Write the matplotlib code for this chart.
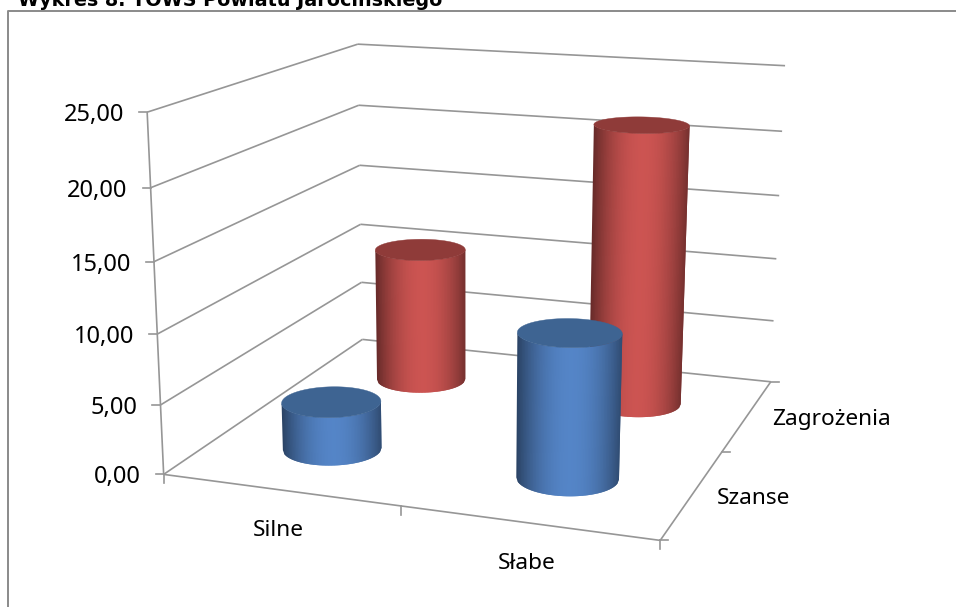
import numpy as np
import matplotlib
matplotlib.use("Agg")
import matplotlib.pyplot as plt
from matplotlib.patches import Polygon

W, H = 956, 607
categories = ["Silne", "Słabe"]
series = ["Szanse", "Zagrożenia"]
szanse = [3.5, 10.3]
zagrozenia = [10.55, 21.4]
y_ticks = [0, 5, 10, 15, 20, 25]
y_labels = ["0,00", "5,00", "10,00", "15,00", "20,00", "25,00"]
title = "Wykres 8. TOWS Powiatu Jarocińskiego"
FONT = "Noto Sans"
GRID = "#969696"

# Camera calibration: model corner -> picture pixel
model = np.array([(0,0,0),(2,0,0),(2,2,0),(0,2,0),(0,0,25),(0,2,25),(2,2,25)], float)
pix = np.array([(164,474),(660,541),(771,381),(362,340),(147,112),(358,44),(785,66)], float)
A = []; b = []
for (X,Y,Z),(u,v) in zip(model, pix):
    A.append([X,Y,Z,1,0,0,0,0,-u*X,-u*Y,-u*Z]); b.append(u)
    A.append([0,0,0,0,X,Y,Z,1,-v*X,-v*Y,-v*Z]); b.append(v)
M = np.append(np.linalg.lstsq(np.array(A), np.array(b), rcond=None)[0], 1).reshape(3,4)

def proj(x, y, z):
    x, y, z = np.broadcast_arrays(np.asarray(x,float), np.asarray(y,float), np.asarray(z,float))
    p = np.stack([x, y, z, np.ones_like(x)])
    q = np.tensordot(M, p, axes=1)
    return q[0]/q[2], q[1]/q[2]

fig = plt.figure(figsize=(W/100, H/100), dpi=100)
ax = fig.add_axes([0,0,1,1])
ax.set_xlim(0, W); ax.set_ylim(H, 0); ax.axis("off")

# frame
ax.plot([8,8,W],[H,11,11], color="#8a8a8a", lw=1.4, zorder=1, clip_on=False)
ax.text(18, 5.5, title, fontsize=13.8, fontweight="bold", family="DejaVu Sans", va="baseline", ha="left", color="black")

def seg(p, q, lw=1.2, z=2):
    u, v = proj(*zip(p, q))
    ax.plot(u, v, color=GRID, lw=lw, zorder=z, solid_capstyle="butt")

for t, lab in zip(y_ticks, y_labels):
    seg((0,0,t), (0,2,t)); seg((0,2,t), (2,2,t))
    u, v = proj(0,0,t)
    ax.plot([u-8,u],[v,v], color=GRID, lw=1.2, zorder=2)
    ax.text(u-23, v+3, lab, fontsize=17, family=FONT, ha="right", va="center", color="black")
seg((0,0,0),(0,0,25))
seg((0,0,0),(2,0,0)); seg((2,0,0),(2,2,0))
for x in (0,1,2):
    u,v = proj(x,0,0); ax.plot([u,u],[v,v+9], color=GRID, lw=1.2, zorder=2)
for y in (0,1,2):
    u,v = proj(2,y,0); ax.plot([u,u+8],[v,v], color=GRID, lw=1.2, zorder=2)

# category and series labels
for i, c in enumerate(categories):
    u,v = proj(i+0.5,0,0)
    ax.text(u-1, v+41, c, fontsize=16.3, family=FONT, ha="center", va="center")
for j, s in enumerate(series):
    u,v = proj(2,j+0.5,0)
    ax.text(u+24, v+5, s, fontsize=16.3, family=FONT, ha="left", va="center")

def shade(base, t):
    d = np.abs(t-0.52)/0.52
    f = 1 - 0.50*d**2.0
    return np.clip(np.array(base)*f, 0, 1)

RX, RY = 0.2, 0.2
def cylinder(cx, cy, val, base, topc, z):
    th = np.linspace(0, 2*np.pi, 721)[:-1]
    ux, uy = proj(cx+RX*np.cos(th), cy+RY*np.sin(th), val)
    bx, by = proj(cx+RX*np.cos(th), cy+RY*np.sin(th), 0)
    il, ir = np.argmin(ux), np.argmax(ux)
    idx = (il + np.arange((ir-il) % 720 + 1)) % 720
    # resample the front arc at even screen widths so strips stay about 1.5 px
    s = (ux[idx]-ux[il])/(ux[ir]-ux[il])
    n = int((ux[ir]-ux[il])/1.5)
    grid = np.linspace(0, 1, n+1)
    tx, ty = np.interp(grid, s, ux[idx]), np.interp(grid, s, uy[idx])
    sx, sy = np.interp(grid, s, bx[idx]), np.interp(grid, s, by[idx])
    for k in range(n):
        e = min(k+2, n)
        col = shade(base, (grid[k]+grid[k+1])/2)
        pts = list(zip(tx[k:e+1], ty[k:e+1])) + list(zip(sx[k:e+1][::-1], sy[k:e+1][::-1]))
        ax.add_patch(Polygon(pts, fc=col, ec="none", lw=0, zorder=z))
    ax.add_patch(Polygon(np.c_[ux,uy], fc=topc, ec=topc, lw=0.3, zorder=z+0.5))

RED, REDTOP = (0.80,0.33,0.32), "#8f3b39"
BLUE, BLUETOP = (0.33,0.52,0.78), "#3e6492"
for i in (1, 0):
    cylinder(i+0.5, 1.5, zagrozenia[i], RED, REDTOP, 5+(1-i))
for i in (1, 0):
    cylinder(i+0.5, 0.5, szanse[i], BLUE, BLUETOP, 10+(1-i))

fig.savefig("out.png", dpi=100)
